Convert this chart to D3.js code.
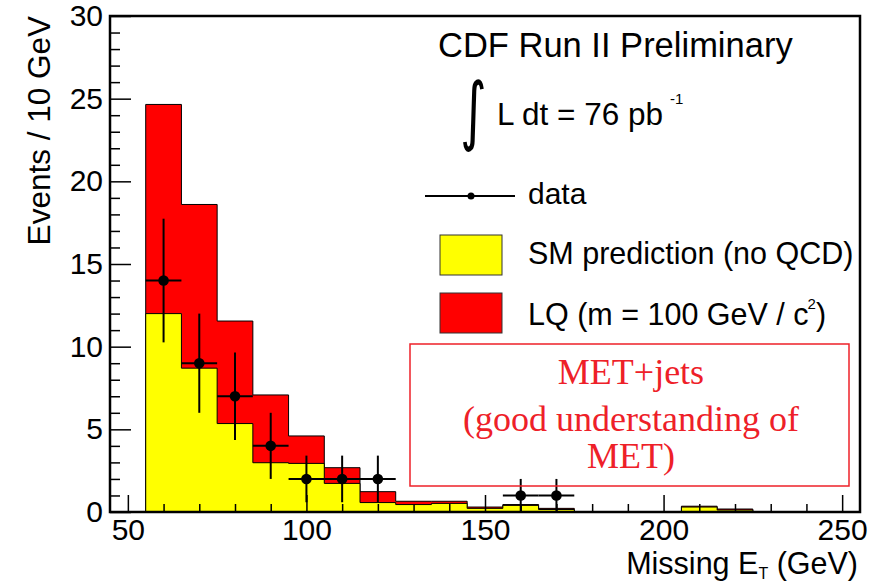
<!DOCTYPE html>
<html>
<head>
<meta charset="utf-8">
<script src="https://cdn.jsdelivr.net/npm/d3@7"></script>
<style>
  html, body { margin: 0; padding: 0; background: #fff; }
  svg { display: block; }
</style>
</head>
<body>
<svg id="chart" width="882" height="583"></svg>
<script>
// ---------- data ----------
const binLowEdges = [55, 65, 75, 85, 95, 105, 115, 125, 135, 145, 155, 165, 175, 185, 195, 205, 215];
const binWidth = 10;
const smPrediction = [12.0, 8.7, 5.35, 2.98, 2.94, 1.73, 0.57, 0.45, 0.52, 0.22, 0.40, 0.15, 0, 0, 0, 0.30, 0.12];
const lqSignal     = [12.65, 9.9, 6.2, 4.1, 1.66, 0.95, 0.66, 0.20, 0.13, 0.08, 0.05, 0.07, 0, 0, 0, 0.05, 0.06];
const dataX   = [60, 70, 80, 90, 100, 110, 120, 160, 170];
const dataY   = [14, 9, 7, 4, 2, 2, 2, 1, 1];
const dataErr = [3.74, 3.0, 2.65, 2.0, 1.41, 1.41, 1.41, 1.0, 1.0];
const xMajorTicks = [50, 100, 150, 200, 250];
const yMajorTicks = [0, 5, 10, 15, 20, 25, 30];

// ---------- layout ----------
const svg = d3.select("#chart");
const frameL = 110, frameR = 860, frameT = 16, frameB = 512;
const x = d3.scaleLinear().domain([45, 255]).range([frameL, frameR]);
const y = d3.scaleLinear().domain([0, 30]).range([frameB, frameT]);
const SANS = "'Liberation Sans', Arial, Helvetica, sans-serif";
const SERIF = "'Liberation Serif', 'Times New Roman', serif";

svg.append("rect").attr("width", 882).attr("height", 583).attr("fill", "#fff");

// ---------- histograms ----------
const totals = smPrediction.map((v, i) => v + lqSignal[i]);
function stepPoints(vals) {
  const p = [[binLowEdges[0], 0]];
  vals.forEach((v, i) => {
    p.push([binLowEdges[i], v]);
    p.push([binLowEdges[i] + binWidth, v]);
  });
  p.push([binLowEdges[binLowEdges.length - 1] + binWidth, 0]);
  return p;
}
const line = d3.line().x(d => x(d[0])).y(d => y(d[1]));

svg.append("path").attr("d", line(stepPoints(totals)) + "Z")
  .attr("fill", "#ff0000").attr("stroke", "#000").attr("stroke-width", 1);
svg.append("path").attr("d", line(stepPoints(smPrediction)) + "Z")
  .attr("fill", "#ffff00").attr("stroke", "#000").attr("stroke-width", 1);

// ---------- data points ----------
const gPts = svg.append("g");
dataX.forEach((xv, i) => {
  const yv = dataY[i], e = dataErr[i];
  gPts.append("line").attr("x1", x(xv - binWidth / 2)).attr("x2", x(xv + binWidth / 2))
    .attr("y1", y(yv)).attr("y2", y(yv)).attr("stroke", "#000").attr("stroke-width", 2);
  gPts.append("line").attr("x1", x(xv)).attr("x2", x(xv))
    .attr("y1", y(yv - e)).attr("y2", y(yv + e)).attr("stroke", "#000").attr("stroke-width", 2);
  gPts.append("circle").attr("cx", x(xv)).attr("cy", y(yv)).attr("r", 5.3).attr("fill", "#000");
});

// ---------- axes ----------
const xMinor = d3.range(50, 251, 10).filter(v => !xMajorTicks.includes(v));
const yMinor = d3.range(0, 31, 1).filter(v => !yMajorTicks.includes(v));

svg.append("g").attr("transform", `translate(0,${frameB})`)
  .call(d3.axisBottom(x).tickValues(xMajorTicks).tickSize(-17).tickSizeOuter(0).tickPadding(7).tickFormat(d3.format("d")));
svg.append("g").attr("transform", `translate(0,${frameB})`)
  .call(d3.axisBottom(x).tickValues(xMinor).tickSize(-8).tickSizeOuter(0).tickFormat(""));
svg.append("g").attr("transform", `translate(${frameL},0)`)
  .call(d3.axisLeft(y).tickValues(yMajorTicks).tickSize(-21).tickSizeOuter(0).tickPadding(7).tickFormat(d3.format("d")));
svg.append("g").attr("transform", `translate(${frameL},0)`)
  .call(d3.axisLeft(y).tickValues(yMinor).tickSize(-10).tickSizeOuter(0).tickFormat(""));

svg.selectAll(".domain").remove();
svg.selectAll(".tick line").attr("stroke", "#000").attr("stroke-width", 1.5);
svg.selectAll(".tick text").attr("font-family", SANS).attr("font-size", 30).attr("fill", "#000");

// frame
svg.append("rect").attr("x", frameL).attr("y", frameT).attr("width", frameR - frameL).attr("height", frameB - frameT)
  .attr("fill", "none").attr("stroke", "#000").attr("stroke-width", 2.5);

// axis titles
svg.append("text").attr("transform", `translate(50,${frameT}) rotate(-90)`)
  .attr("text-anchor", "end").attr("font-family", SANS).attr("font-size", 31.5)
  .text("Events / 10 GeV");
const xt = svg.append("text").attr("x", 858).attr("y", 574).attr("text-anchor", "end")
  .attr("font-family", SANS).attr("font-size", 30.5);
xt.append("tspan").text("Missing E");
xt.append("tspan").attr("font-size", 16).attr("dy", 5).text("T");
xt.append("tspan").attr("dy", -5).text(" (GeV)");

// ---------- legend / labels ----------
svg.append("text").attr("x", 438).attr("y", 57).attr("font-family", SANS).attr("font-size", 34.5)
  .text("CDF Run II Preliminary");
svg.append("text").attr("transform", "translate(460,136) scale(0.85,1.25)")
  .attr("font-family", "'DejaVu Sans', sans-serif")
  .attr("font-size", 60).text("∫");
svg.append("text").attr("x", 497).attr("y", 125).attr("font-family", SANS).attr("font-size", 31.5)
  .text("L dt = 76 pb");
svg.append("text").attr("x", 670).attr("y", 104).attr("font-family", SANS).attr("font-size", 15)
  .text("-1");

// data legend
svg.append("line").attr("x1", 425).attr("x2", 515).attr("y1", 196).attr("y2", 196)
  .attr("stroke", "#000").attr("stroke-width", 2);
svg.append("circle").attr("cx", 471).attr("cy", 196).attr("r", 3.5).attr("fill", "#000");
svg.append("text").attr("x", 528).attr("y", 204).attr("font-family", SANS).attr("font-size", 30).text("data");

svg.append("rect").attr("x", 440).attr("y", 235).attr("width", 62).attr("height", 40)
  .attr("fill", "#ffff00").attr("stroke", "#333").attr("stroke-width", 1);
svg.append("text").attr("x", 528).attr("y", 264).attr("font-family", SANS).attr("font-size", 30.5)
  .text("SM prediction (no QCD)");

svg.append("rect").attr("x", 440).attr("y", 293).attr("width", 62).attr("height", 40)
  .attr("fill", "#ff0000").attr("stroke", "#333").attr("stroke-width", 1);
const lq = svg.append("text").attr("x", 528).attr("y", 325).attr("font-family", SANS).attr("font-size", 30.5);
lq.append("tspan").text("LQ (m = 100 GeV / c");
lq.append("tspan").attr("font-size", 15).attr("dy", -16).attr("dx", -1).text("2");
lq.append("tspan").attr("dy", 16).text(")");

// annotation box
svg.append("rect").attr("x", 410).attr("y", 344).attr("width", 439).attr("height", 142)
  .attr("fill", "none").attr("stroke", "#ee2028").attr("stroke-width", 1.5);
const annot = [["MET+jets", 384], ["(good understanding of", 431], ["MET)", 468]];
annot.forEach(([t, yy]) => {
  svg.append("text").attr("x", 631).attr("y", yy).attr("text-anchor", "middle")
    .attr("font-family", SERIF).attr("font-size", 36).attr("fill", "#ee2028").text(t);
});
</script>
</body>
</html>
